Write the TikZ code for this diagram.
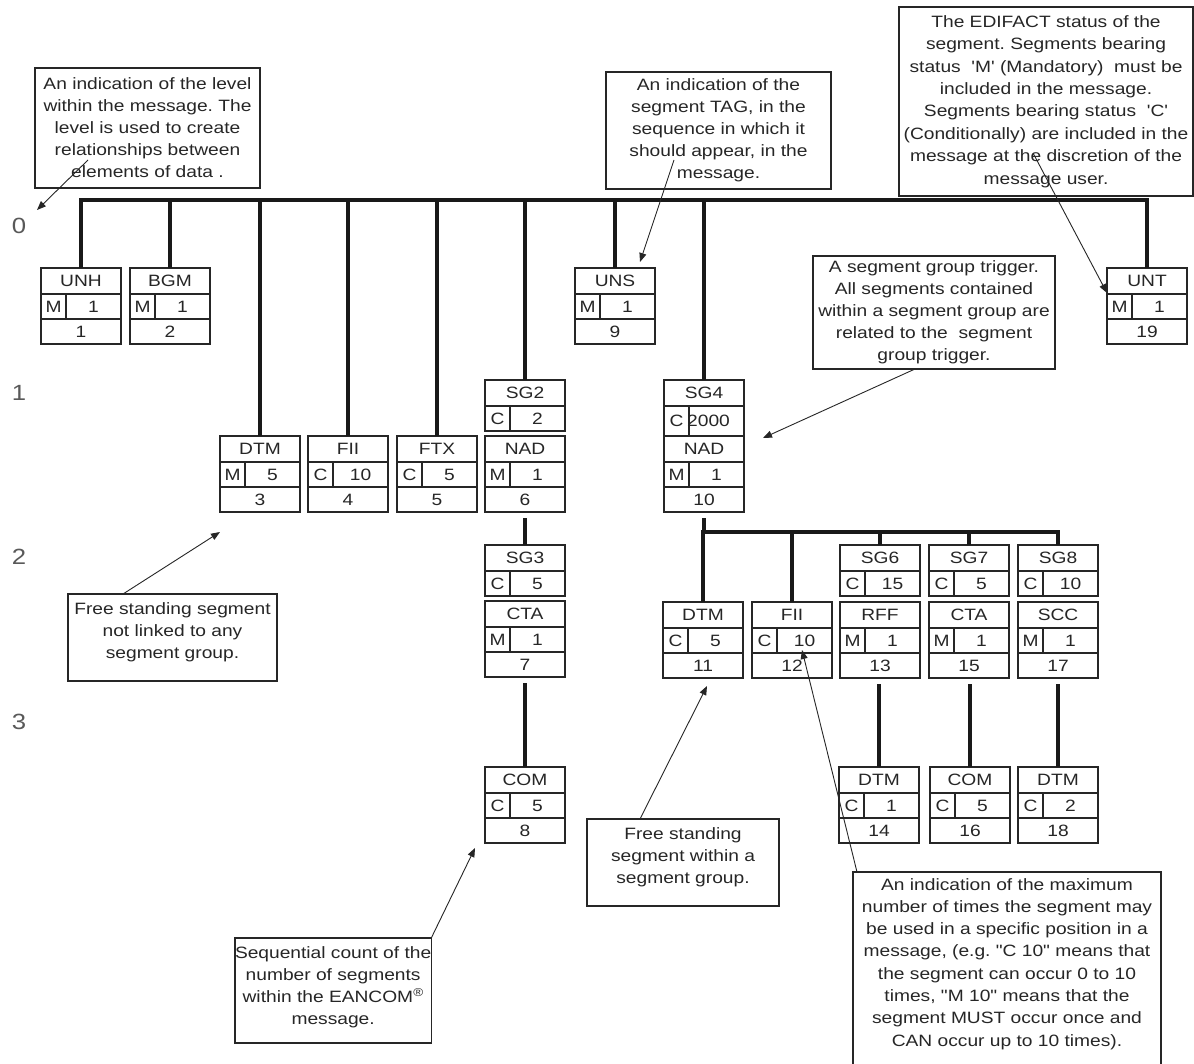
\documentclass[tikz,border=0pt]{standalone}
\usepackage{fontspec}
\setmainfont{Liberation Sans}[FakeStretch=1.17, Ligatures=TeXOff]
\usetikzlibrary{arrows.meta,calc}
\frenchspacing
\tikzset{
  segframe/.style={draw=black!85, line width=1.4pt, minimum width=80pt, inner sep=0pt, outer sep=0pt, rectangle},
  cellline/.style={draw=black!85, line width=1.2pt},
  celltext/.style={inner sep=0pt, font=\fontsize{16.4}{20}\selectfont, text=black!85},
  conn/.style={line width=4pt, black!90, line join=miter},
  callout/.style={draw=black!85, line width=1.4pt, align=center, inner sep=0pt, outer sep=0pt,
    font=\fontsize{16.4}{22}\selectfont, text=black!85, anchor=north west},
  callouttext/.style={align=center, inner sep=0pt, font=\fontsize{16.4}{22.3}\selectfont, text=black!85},
  pointer/.style={line width=0.9pt, black!85, -{Triangle[length=9pt,width=7pt]}},
  levellabel/.style={font=\fontsize{22}{22}\selectfont, text=black!65, inner sep=0pt},
}
% segment box: name, x, y, tag, status, repeats, position
\newcommand\segbox[7]{%
  \node[segframe, minimum height=76pt, anchor=north west] (#1) at (#2,#3) {};
  \draw[cellline] ([yshift=-26pt]#1.north west) -- ([yshift=-26pt]#1.north east)
    ([yshift=-51pt]#1.north west) -- ([yshift=-51pt]#1.north east)
    ([xshift=25pt,yshift=-26pt]#1.north west) -- ([xshift=25pt,yshift=-51pt]#1.north west);
  \node[celltext] (#1-tag) at ([yshift=-13pt]#1.north) {#4};
  \node[celltext] (#1-st) at ([xshift=12.5pt,yshift=-38.5pt]#1.north west) {#5};
  \node[celltext] (#1-rep) at ([xshift=52.5pt,yshift=-38.5pt]#1.north west) {#6};
  \node[celltext] (#1-pos) at ([yshift=-63.5pt]#1.north) {#7};
  \coordinate (#1-below) at ([yshift=-6pt]#1.south);
}
% segment group box: [rep options] name, x, y, tag, status, repeats, height
\newcommand\sgbox[8][]{%
  \pgfmathsetmacro\sgmid{-(26+(#8-26)/2)}%
  \node[segframe, minimum height=#8pt, anchor=north west] (#2) at (#3,#4) {};
  \draw[cellline] ([yshift=-26pt]#2.north west) -- ([yshift=-26pt]#2.north east)
    ([xshift=25pt,yshift=-26pt]#2.north west) -- ([xshift=25pt]#2.south west);
  \node[celltext] (#2-tag) at ([yshift=-13pt]#2.north) {#5};
  \node[celltext] (#2-st) at ([xshift=12.5pt,yshift=\sgmid pt]#2.north west) {#6};
  \node[celltext,#1] (#2-rep) at ([xshift=52.5pt,yshift=\sgmid pt]#2.north west) {#7};
}
\begin{document}
\begin{tikzpicture}[x=1pt,y=-1pt]
\useasboundingbox[fill=white] (0,0) rectangle (1194,1064);

% level labels
\node[levellabel] (lev0) at (19,226) {0};
\node[levellabel] (lev1) at (19,393) {1};
\node[levellabel] (lev2) at (19,557) {2};
\node[levellabel] (lev3) at (19,722) {3};

% level 0 segments
\segbox{unh}{41}{268}{UNH}{M}{1}{1}
\segbox{bgm}{130}{268}{BGM}{M}{1}{2}
\segbox{uns}{575}{268}{UNS}{M}{1}{9}
\segbox{unt}{1107}{268}{UNT}{M}{1}{19}

% level 1
\segbox{dtmA}{220}{436}{DTM}{M}{5}{3}
\segbox{fiiA}{308}{436}{FII}{C}{10}{4}
\segbox{ftx}{397}{436}{FTX}{C}{5}{5}
\sgbox{sgtwo}{485}{380}{SG2}{C}{2}{51}
\segbox{nadA}{485}{436}{NAD}{M}{1}{6}
\sgbox[xshift=-8pt]{sgfour}{664}{380}{SG4}{C}{2000}{56}
\segbox{nadB}{664}{436}{NAD}{M}{1}{10}

% level 2
\sgbox{sgthree}{485}{545}{SG3}{C}{5}{51}
\segbox{ctaA}{485}{601}{CTA}{M}{1}{7}
\segbox{dtmB}{663}{602}{DTM}{C}{5}{11}
\segbox{fiiB}{752}{602}{FII}{C}{10}{12}
\sgbox{sgsix}{840}{545}{SG6}{C}{15}{51}
\segbox{rff}{840}{602}{RFF}{M}{1}{13}
\sgbox{sgseven}{929}{545}{SG7}{C}{5}{51}
\segbox{ctaB}{929}{602}{CTA}{M}{1}{15}
\sgbox{sgeight}{1018}{545}{SG8}{C}{10}{51}
\segbox{scc}{1018}{602}{SCC}{M}{1}{17}

% level 3
\segbox{comA}{485}{767}{COM}{C}{5}{8}
\segbox{dtmC}{839}{767}{DTM}{C}{1}{14}
\segbox{comB}{930}{767}{COM}{C}{5}{16}
\segbox{dtmD}{1018}{767}{DTM}{C}{2}{18}

% connectors
\coordinate (bus) at (0,200);
\coordinate (subbus) at (0,532);
\draw[conn] (unh.north) -- (unh.north |- bus) -- (unt.north |- bus) -- (unt.north);
\foreach \n in {bgm,dtmA,fiiA,ftx,sgtwo,uns,sgfour}
  \draw[conn] (\n.north) -- (\n.north |- bus);
\draw[conn] (nadA-below) -- (sgthree.north);
\draw[conn] (ctaA-below) -- (comA.north);
\draw[conn] (nadB-below) -- (nadB.south |- subbus);
\draw[conn] (dtmB.north) -- (dtmB.north |- subbus) -- (sgeight.north |- subbus) -- (sgeight.north);
\foreach \n in {fiiB,sgsix,sgseven}
  \draw[conn] (\n.north) -- (\n.north |- subbus);
\draw[conn] (dtmC.north) -- (dtmC.north |- rff-below);
\draw[conn] (comB.north) -- (comB.north |- ctaB-below);
\draw[conn] (dtmD.north) -- (dtmD.north |- scc-below);

% callouts
\node[callout, minimum width=225pt, minimum height=120pt] (cLevel) at (35,68)
  {An indication of the level\\within the message. The\\level is used to create\\relationships between\\elements of data .};
\node[callout, minimum width=225pt, minimum height=117pt] (cTag) at (606,72)
  {An indication of the\\segment TAG, in the\\sequence in which it\\should appear, in the\\message.};
\node[callout, minimum width=294pt, minimum height=189pt, font=\fontsize{16.4}{22.4}\selectfont] (cStatus) at (899,7)
  {The EDIFACT status of the\\segment. Segments bearing\\status\ \ 'M' (Mandatory)\ \ must be\\included in the message.\\Segments bearing status\ \ 'C'\\(Conditionally) are included in the\\message at the discretion of the\\message user.};
\node[callout, minimum width=242pt, minimum height=113pt] (cTrigger) at (813,256)
  {A segment group trigger.\\All segments contained\\within a segment group are\\related to the\ \ segment\\group trigger.};
\node[callout, minimum width=209pt, minimum height=87pt] (cFree) at (68,594)
  {Free standing segment\\not linked to any\\segment group.\rule[-14pt]{0pt}{1pt}};
\node[callout, minimum width=192pt, minimum height=87pt] (cFreeGrp) at (587,819)
  {Free standing\\segment within a\\segment group.\rule[-14pt]{0pt}{1pt}};
\node[callout, minimum width=182pt, minimum height=105pt] (cSeq) at (235,938)
  {Sequential count of the\\number of segments\\within the EANCOM\textsuperscript{®}\\message.\rule[-10pt]{0pt}{1pt}};
\node[callout, minimum width=308pt, minimum height=200pt] (cMax) at (853,872) {};
\node[callouttext, anchor=north] (cMaxText) at ($(cMax.north)+(0,6)$)
  {An indication of the maximum\\number of times the segment may\\be used in a specific position in a\\message, (e.g. "C 10" means that\\the segment can occur 0 to 10\\times, "M 10" means that the\\segment MUST occur once and\\CAN occur up to 10 times).};

% pointer ends
\coordinate (p1s) at (88,160);   \coordinate (p1e) at (37,210);
\coordinate (p2s) at (674,160);  \coordinate (p2e) at (640,262);
\coordinate (p3s) at (1033,153); \coordinate (p3e) at ([yshift=-25pt]unt.north west);
\coordinate (p4s) at (915,369);  \coordinate (p4e) at (763,438);
\coordinate (p5s) at (123,594);  \coordinate (p5e) at (220,532);
\coordinate (p6s) at (640,819);  \coordinate (p6e) at (707,686);
\coordinate (p7s) at (857,872);  \coordinate (p7e) at (802,650);
\coordinate (p8e) at (475,848);

\draw[pointer] (p1s) -- (p1e);
\draw[pointer] (p2s) -- (p2e);
\draw[pointer] (p3s) -- (p3e);
\draw[pointer] (p4s) -- (p4e);
\draw[pointer] (p5s) -- (p5e);
\draw[pointer] (p6s) -- (p6e);
\draw[pointer] (p7s) -- (p7e);
\draw[pointer] (cSeq.north east) -- (p8e);
\end{tikzpicture}
\end{document}
